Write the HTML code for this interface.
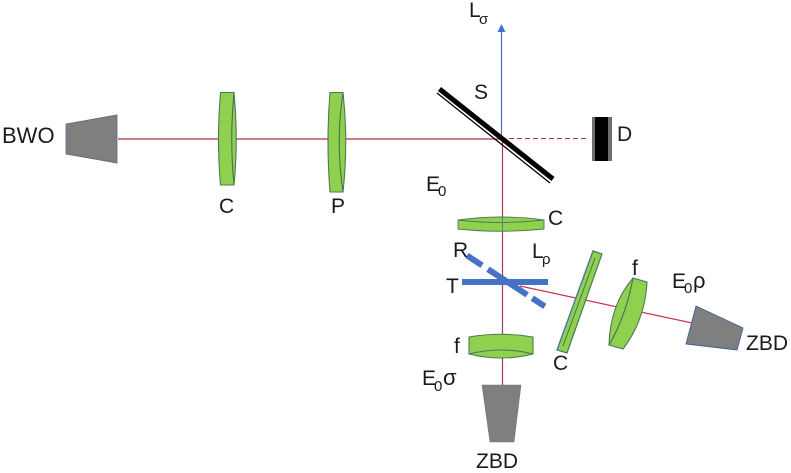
<!DOCTYPE html>
<html>
<head>
<meta charset="utf-8">
<style>
html,body{margin:0;padding:0;background:#fff;width:791px;height:473px;overflow:hidden}
svg{display:block;position:absolute;left:0;top:0}
text{font-family:"Liberation Sans",sans-serif;font-size:21px;fill:#1a1a1a}
.s{font-size:15px}
.b{font-size:22px}
</style>
</head>
<body>
<svg width="791" height="473" viewBox="0 0 791 473" xmlns="http://www.w3.org/2000/svg">
<!-- beams -->
<line x1="118" y1="139" x2="501" y2="139" stroke="#b5303f" stroke-width="1.2"/>
<line x1="501" y1="138.500" x2="588" y2="138.500" stroke="#a83a48" stroke-width="1" stroke-dasharray="5 3"/>
<line x1="501.500" y1="139" x2="501.500" y2="30" stroke="#4472c4" stroke-width="1.200"/>
<polygon points="501.500,24 497.500,32 505.500,32" fill="#4472c4"/>
<line x1="502.500" y1="139" x2="502.500" y2="386" stroke="#b03a4c" stroke-width="1.200"/>
<line x1="520" y1="286" x2="692" y2="323" stroke="#c8384a" stroke-width="1.200"/>

<!-- BWO -->
<polygon points="66,124 117,115 117,163 66,154" fill="#7f7f7f" stroke="#56688a" stroke-width="0.8"/>

<!-- Lens C left -->
<path d="M220.500,92.500 H234 Q238.500,139 234,185 H220.500 Q216.500,139 220.500,92.500 Z" fill="#8fd14f" stroke="#4c7a58" stroke-width="1.100"/>
<path d="M234,92.500 Q229.500,139 234,185" fill="none" stroke="#47705a" stroke-width="1.100"/>
<!-- Lens P -->
<path d="M330,92.500 H343 Q348.500,142 343,192 H330 Q326,142 330,92.500 Z" fill="#8fd14f" stroke="#4c7a58" stroke-width="1.100"/>
<path d="M343,92.500 Q335.500,142 343,192" fill="none" stroke="#47705a" stroke-width="1.100"/>

<!-- Mirror S -->
<line x1="439.500" y1="89" x2="553" y2="179" stroke="#000" stroke-width="5"/>
<line x1="437" y1="93" x2="550" y2="183" stroke="#000" stroke-width="1.300"/>

<!-- D -->
<rect x="592" y="117" width="20" height="44" fill="#6e6e6e"/>
<rect x="595" y="117" width="13" height="44" fill="#000"/>

<!-- Lens C horizontal -->
<path d="M458,220 Q501,214 544,220 V229 Q501,233.500 458,229 Z" fill="#8fd14f" stroke="#4c7a58" stroke-width="0.900"/>
<path d="M458,220 Q501,225 544,220" fill="none" stroke="#4c7a58" stroke-width="0.900"/>
<line x1="502.500" y1="217" x2="502.500" y2="232" stroke="#6a7d7c" stroke-width="1.100"/>

<!-- R, T -->
<line x1="467" y1="255.500" x2="545" y2="306.500" stroke="#4472c4" stroke-width="6" stroke-dasharray="18 7 47 6 15"/>
<line x1="462" y1="282" x2="548" y2="282" stroke="#4472c4" stroke-width="6"/>

<!-- Lens f bottom -->
<path d="M469,337 Q501,331.500 533,337 V354 Q501,362 469,354 Z" fill="#8fd14f" stroke="#4c7a58" stroke-width="1.100"/>
<path d="M469,354 Q501,346 533,354" fill="none" stroke="#4c7a58" stroke-width="1.100"/>

<!-- ZBD bottom -->
<polygon points="482,385 521,385 514,442 490,442" fill="#7f7f7f" stroke="#6d7a8c" stroke-width="0.600"/>

<!-- Tilted C -->
<polygon points="593,251 602,254 567,353 557,350" fill="#8fd14f" stroke="#4c7a58" stroke-width="1.200"/>
<line x1="593" y1="251" x2="557" y2="350" stroke="#4a78a8" stroke-width="1.300"/>
<line x1="595" y1="258" x2="563" y2="346" stroke="#47705a" stroke-width="1"/>

<!-- Tilted f -->
<path d="M633,278 L647,282 Q645,320 623,349 L609,345 Q610,305 633,278 Z" fill="#8fd14f" stroke="#4c7a58" stroke-width="1.100"/>
<path d="M633,278 Q626,316 609,345" fill="none" stroke="#47705a" stroke-width="1.100"/>

<!-- ZBD right -->
<polygon points="696,306 743,328 737,350 686,344" fill="#7f7f7f" stroke="#3f5f95" stroke-width="0.900"/>

<!-- Labels -->
<text class="b" x="2" y="143">BWO</text>
<text x="219" y="213">C</text>
<text x="331" y="213">P</text>
<text x="469" y="17">L</text><text class="s" x="479" y="24">σ</text>
<text x="474" y="99">S</text>
<text x="617" y="141">D</text>
<text x="426" y="191">E</text><text class="s" x="438" y="196">0</text>
<text x="548" y="225">C</text>
<text x="453" y="257">R</text>
<text x="532" y="258">L</text><text class="s" x="542" y="264">ρ</text>
<text x="446" y="293">T</text>
<text x="632" y="275">f</text>
<text x="672" y="288">E</text><text class="s" x="684" y="293">0</text><text class="b" x="693" y="288">ρ</text>
<text x="454" y="353">f</text>
<text x="553" y="370">C</text>
<text x="746" y="350">ZBD</text>
<text x="422" y="385">E</text><text class="s" x="434" y="391">0</text><text class="b" x="443" y="385">σ</text>
<text x="476" y="468">ZBD</text>
</svg>
</body>
</html>
